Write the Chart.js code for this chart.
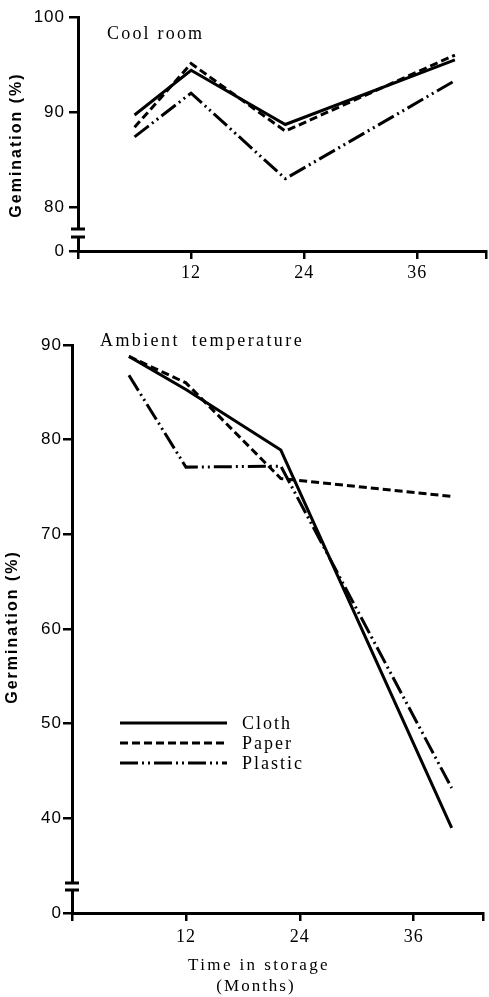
<!DOCTYPE html>
<html>
<head>
<meta charset="utf-8">
<script src="https://cdn.jsdelivr.net/npm/chart.js@4.4.1/dist/chart.umd.min.js"></script>
<style>
  html, body { margin: 0; padding: 0; background: #fff; }
  body { width: 489px; height: 997px; position: relative; overflow: hidden; }
  canvas { position: absolute; left: 0; }
  #coolChart { top: 0; }
  #ambientChart { top: 300px; }
</style>
</head>
<body>
<canvas id="coolChart" width="489" height="290"></canvas>
<canvas id="ambientChart" width="489" height="697"></canvas>
<script>
// storage time of each germination test (months)
const months = [6, 12, 22, 40];
const monthTicks = [12, 24, 36];
const containers = ['Cloth', 'Paper', 'Plastic'];

// germination (%) in the cool room
const coolCloth = [89.7, 94.4, 88.7, 95.5];
const coolPaper = [88.4, 95.1, 88.0, 96.0];
const coolPlastic = [87.4, 92.0, 83.0, 93.3];
const coolTicks = [80, 90, 100];

// germination (%) at ambient temperature
const ambCloth = [88.8, 85.3, 78.9, 39.0];
const ambPaper = [88.8, 86.0, 75.9, 74.0];
const ambPlastic = [86.8, 77.1, 77.2, 43.2];
const ambTicks = [40, 50, 60, 70, 80, 90];

const dashes = [[], [8, 4], [18, 4, 2, 4, 2, 4]];
const xMax = 43.3;

// spaced-out lettering used by the figure
const tickSpacing = {
  id: 'tickSpacing',
  beforeDraw(chart) { chart.ctx.letterSpacing = '1px'; },
  afterDraw(chart) { chart.ctx.letterSpacing = '0px'; }
};

// broken y axis: white gap with two bars just above the zero
const axisBreak = {
  id: 'axisBreak',
  afterDraw(chart, args, opts) {
    const ctx = chart.ctx;
    const x = chart.chartArea.left;
    const yb = chart.chartArea.bottom;
    ctx.save();
    ctx.fillStyle = '#fff';
    ctx.fillRect(x - 3, yb - opts.upper, 6, opts.upper - opts.lower);
    ctx.fillStyle = '#000';
    ctx.fillRect(x - 7, yb - opts.upper - 1.5, 14, 3);
    ctx.fillRect(x - 7, yb - opts.lower - 1.5, 14, 3);
    ctx.restore();
  }
};

// free text: panel names, axis titles
const panelText = {
  id: 'panelText',
  afterDraw(chart, args, opts) {
    const ctx = chart.ctx;
    (opts.items || []).forEach(t => {
      ctx.save();
      ctx.fillStyle = '#000';
      ctx.font = t.font;
      ctx.letterSpacing = (t.spacing || 0) + 'px';
      ctx.wordSpacing = (t.wordSpacing || 0) + 'px';
      ctx.textAlign = t.align || 'left';
      ctx.textBaseline = t.baseline || 'alphabetic';
      ctx.translate(t.x, t.y);
      if (t.rotate) ctx.rotate(t.rotate);
      ctx.fillText(t.text, 0, 0);
      ctx.restore();
    });
  }
};

// line key drawn inside the plot from the datasets' own styles
const lineKey = {
  id: 'lineKey',
  afterDraw(chart, args, opts) {
    if (!opts.show) return;
    const ctx = chart.ctx;
    chart.data.datasets.forEach((ds, i) => {
      const y = opts.y + i * opts.step;
      ctx.save();
      ctx.strokeStyle = '#000';
      ctx.lineWidth = ds.borderWidth;
      ctx.setLineDash(ds.borderDash);
      ctx.beginPath();
      ctx.moveTo(opts.x, y);
      ctx.lineTo(opts.x + opts.length, y);
      ctx.stroke();
      ctx.setLineDash([]);
      ctx.fillStyle = '#000';
      ctx.font = opts.font;
      ctx.letterSpacing = opts.spacing + 'px';
      ctx.textBaseline = 'alphabetic';
      ctx.fillText(ds.label, opts.x + opts.length + 15, y + 6);
      ctx.restore();
    });
  }
};

function makeDatasets(series) {
  return containers.map((name, i) => ({
    label: name,
    data: months.map((m, j) => ({ x: m, y: series[i][j] })),
    borderColor: '#000',
    borderWidth: 3,
    borderDash: dashes[i],
    pointRadius: 0,
    tension: 0,
    fill: false
  }));
}

function makeChart(id, series, yTicks, yBase, yMax, layout, extra) {
  return new Chart(document.getElementById(id), {
    type: 'line',
    data: { datasets: makeDatasets(series) },
    plugins: [tickSpacing, axisBreak, panelText, lineKey],
    options: {
      responsive: false,
      animation: false,
      layout: { padding: { top: layout.top, right: layout.right, left: 0, bottom: 0 } },
      scales: {
        x: {
          type: 'linear',
          min: 0,
          max: xMax,
          afterBuildTicks: s => { s.ticks = [0, ...monthTicks, xMax].map(v => ({ value: v })); },
          afterFit: s => { s.height = layout.xHeight; },
          ticks: {
            autoSkip: false,
            maxRotation: 0,
            padding: layout.xPad,
            color: '#000',
            font: { family: 'Liberation Serif', size: 18 },
            callback: v => monthTicks.includes(v) ? v : ''
          },
          grid: { drawOnChartArea: false, tickLength: 8, color: '#000', lineWidth: 2.5 },
          border: { color: '#000', width: 3 }
        },
        y: {
          type: 'linear',
          min: yBase,
          max: yMax,
          afterBuildTicks: s => { s.ticks = [yBase, ...yTicks].map(v => ({ value: v })); },
          afterFit: s => { s.width = layout.yWidth; },
          ticks: {
            padding: layout.yPad,
            color: '#000',
            font: { family: 'Liberation Sans', size: 17 },
            callback: v => v === yBase ? '0' : v
          },
          grid: { drawOnChartArea: false, tickLength: 9, color: '#000', lineWidth: 2.5 },
          border: { color: '#000', width: 3 }
        }
      },
      plugins: Object.assign({
        legend: { display: false },
        tooltip: { enabled: false }
      }, extra)
    }
  });
}

makeChart('coolChart', [coolCloth, coolPaper, coolPlastic], coolTicks, 75.4, 100,
  { top: 17, right: 2, yWidth: 78, xHeight: 39, xPad: 3, yPad: 4 },
  {
    axisBreak: { upper: 22, lower: 14 },
    lineKey: { show: false },
    panelText: {
      items: [
        { text: 'Cool room', x: 107, y: 39, font: '18px "Liberation Serif"', spacing: 2.2 },
        { text: 'Gemination (%)', x: 17, y: 145, font: 'bold 16px "Liberation Sans"', spacing: 2,
          align: 'center', baseline: 'middle', rotate: -Math.PI / 2 }
      ]
    }
  });

makeChart('ambientChart', [ambCloth, ambPaper, ambPlastic], ambTicks, 30, 90,
  { top: 45, right: 6, yWidth: 72, xHeight: 84, xPad: 5, yPad: 1 },
  {
    axisBreak: { upper: 30, lower: 23 },
    lineKey: { show: true, x: 120, y: 423, step: 20, length: 107,
      font: '18px "Liberation Serif"', spacing: 2 },
    panelText: {
      items: [
        { text: 'Ambient temperature', x: 100, y: 46, font: '18px "Liberation Serif"', spacing: 2.4, wordSpacing: 5 },
        { text: 'Germination (%)', x: 13, y: 327, font: 'bold 16px "Liberation Sans"', spacing: 2,
          align: 'center', baseline: 'middle', rotate: -Math.PI / 2 },
        { text: 'Time in storage', x: 259, y: 670, font: '17px "Liberation Serif"', spacing: 2.4, align: 'center' },
        { text: '(Months)', x: 256, y: 691, font: '17px "Liberation Serif"', spacing: 2, align: 'center' }
      ]
    }
  });
</script>
</body>
</html>
